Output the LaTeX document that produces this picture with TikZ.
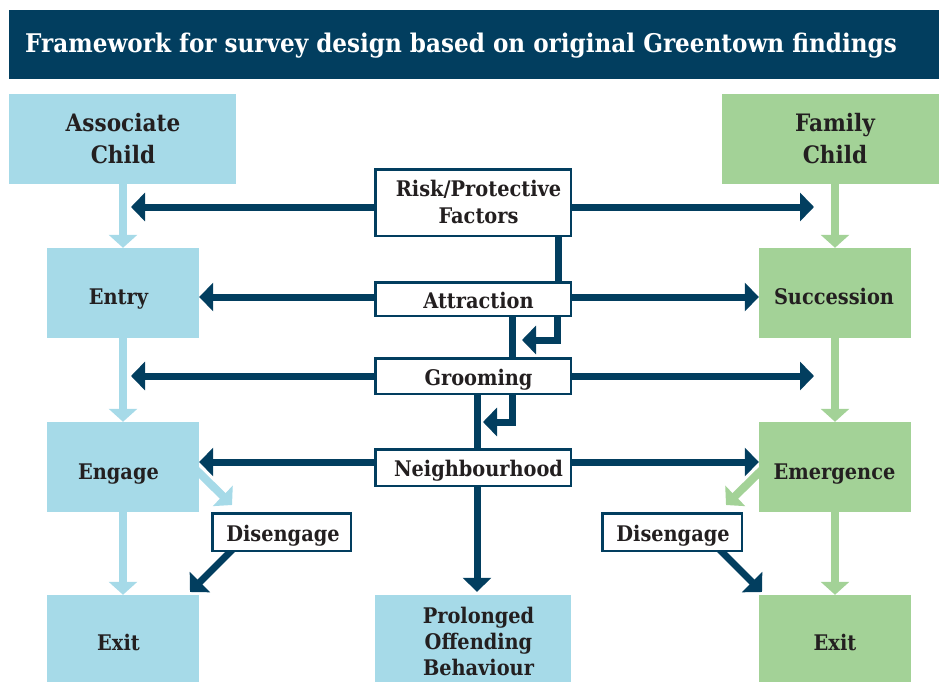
\documentclass[tikz,border=0pt]{standalone}
\usepackage{fontspec}
\setmainfont{DejaVuSerifCondensed-Bold}[Extension=.ttf]
\usetikzlibrary{arrows.meta}
\definecolor{navy}{HTML}{023E5F}
\definecolor{lblue}{HTML}{A6DAE8}
\definecolor{lgreen}{HTML}{A3D297}
\definecolor{ink}{HTML}{231F20}
\newcommand\hfnt{\fontsize{24}{28}\selectfont}
\newcommand\lfnt{\fontsize{21.5}{25}\selectfont}
\newcommand\tfnt{\fontsize{25.7}{30}\selectfont}
\pgfdeclarelayer{bg}
\pgfsetlayers{bg,main}
\begin{document}
\begin{tikzpicture}[x=1pt,y=-1pt,
  bbox/.style={fill=lblue, inner sep=0pt, draw=none},
  gbox/.style={fill=lgreen, inner sep=0pt, draw=none},
  wbox/.style={fill=white, draw=navy, line width=2.5pt, inner sep=0pt},
  lab/.style={inner sep=0pt, anchor=base, text=ink, font=\lfnt},
  hlab/.style={inner sep=0pt, anchor=base, text=ink, font=\hfnt},
  darr/.style={draw=navy, line width=7pt, -{Triangle[width=28pt,length=14pt]}},
  dline/.style={draw=navy, line width=7pt},
  larr/.style={draw=lblue, line width=8pt, -{Triangle[width=28pt,length=13pt]}},
  garr/.style={draw=lgreen, line width=8pt, -{Triangle[width=28pt,length=13pt]}}]
\useasboundingbox (0,0) rectangle (939,682);

% title
\node[fill=navy, inner sep=0pt, minimum width=930pt, minimum height=69pt] (title) at (474,44.5) {};
\node[inner sep=0pt, anchor=base west, text=white, font=\tfnt] (ttext) at (25,53) {Framework for survey design based on original Greentown findings};

% coloured boxes
\node[bbox, minimum width=227pt, minimum height=90pt] (ac) at (122.5,139) {};
\node[gbox, minimum width=217pt, minimum height=90pt] (fc) at (830.5,139) {};
\node[bbox, minimum width=152pt, minimum height=90pt] (entry) at (123,293) {};
\node[gbox, minimum width=152pt, minimum height=90pt] (succ) at (835,293) {};
\node[bbox, minimum width=152pt, minimum height=90pt] (engage) at (123,467) {};
\node[gbox, minimum width=152pt, minimum height=90pt] (emerg) at (835,467) {};
\node[bbox, minimum width=152pt, minimum height=87pt] (exitl) at (123,638.5) {};
\node[gbox, minimum width=152pt, minimum height=87pt] (exitr) at (835,638.5) {};
\node[bbox, minimum width=196pt, minimum height=87pt] (prol) at (473,638.5) {};

% white boxes
\node[wbox, minimum width=195.5pt, minimum height=66.5pt] (risk) at (473,202.5) {};
\node[wbox, minimum width=195.5pt, minimum height=33.5pt] (attr) at (473,299) {};
\node[wbox, minimum width=195.5pt, minimum height=35.5pt] (groom) at (473,376) {};
\node[wbox, minimum width=195.5pt, minimum height=36.5pt] (neigh) at (473,467.5) {};
\node[wbox, minimum width=138.5pt, minimum height=37.5pt] (disl) at (281.5,532) {};
\node[wbox, minimum width=139.5pt, minimum height=37.5pt] (disr) at (672,532) {};

% labels
\node[hlab] (ac1) at (123,131.7) {Associate};
\node[hlab] (ac2) at (123,163) {Child};
\node[hlab] (fc1) at (835,131.7) {Family};
\node[hlab] (fc2) at (835,163) {Child};
\node[lab] (entryt) at (118.5,304) {Entry};
\node[lab] (succt) at (834,304) {Succession};
\node[lab] (engaget) at (118.5,479) {Engage};
\node[lab] (emergt) at (834.5,479) {Emergence};
\node[lab] (exitlt) at (118.5,650) {Exit};
\node[lab] (exitrt) at (835,650) {Exit};
\node[lab] (prol1) at (478.5,623.3) {Prolonged};
\node[lab] (prol2) at (478.5,649) {Offending};
\node[lab] (prol3) at (478.5,675) {Behaviour};
\node[lab] (risk1) at (478.5,196.7) {Risk/Protective};
\node[lab] (risk2) at (478.5,223.3) {Factors};
\node[lab] (attrt) at (478.5,308.3) {Attraction};
\node[lab] (groomt) at (478.5,385) {Grooming};
\node[lab] (neight) at (478.5,476.7) {Neighbourhood};
\node[lab] (dislt) at (283,541.7) {Disengage};
\node[lab] (disrt) at (673,541.7) {Disengage};

% free ends
\coordinate (rl) at (131,207);
\coordinate (rr) at (814,207);
\coordinate (gl) at (131,376);
\coordinate (gr) at (814,376);
\coordinate (b1) at (522,340);
\coordinate (b2) at (483,422);
\coordinate (el) at (232,505);
\coordinate (er) at (726,505);
\coordinate (xl) at (190,592);
\coordinate (xr) at (762,592);

\begin{pgfonlayer}{bg}
% light vertical arrows
\draw[larr] (ac.south -| entry.north) -- (entry.north);
\draw[larr] (entry.south) -- (engage.north);
\draw[larr] (engage.south) -- (exitl.north);
\draw[garr] (fc.south -| succ.north) -- (succ.north);
\draw[garr] (succ.south) -- (emerg.north);
\draw[garr] (emerg.south) -- (exitr.north);
% light diagonals
\draw[larr] ([xshift=-8pt,yshift=7pt]engage.east |- 0,472) -- (el);
\draw[garr] ([xshift=8pt,yshift=7pt]emerg.west |- 0,472) -- (er);
% dark horizontal arrows
\draw[darr] (risk.center |- rl) -- (rl);
\draw[darr] (risk.center |- rr) -- (rr);
\draw[darr] (attr.center |- 0,297) -- (entry.east |- 0,297);
\draw[darr] (attr.center |- 0,297) -- (succ.west |- 0,297);
\draw[darr] (groom.center |- gl) -- (gl);
\draw[darr] (groom.center |- gr) -- (gr);
\draw[darr] (neigh.center |- 0,462) -- (engage.east |- 0,462);
\draw[darr] (neigh.center |- 0,462) -- (emerg.west |- 0,462);
% central spine
\draw[dline] (risk.south -| 558,0) -- (attr.north -| 558,0);
\draw[dline] (attr.south -| 512,0) -- (groom.north -| 512,0);
\draw[darr] (attr.south -| 557,0) |- (b1);
\draw[dline] (groom.south -| 477,0) -- (neigh.north -| 477,0);
\draw[darr] (groom.south -| 512,0) |- (b2);
\draw[darr] (neigh.south -| 477,0) -- ([yshift=3pt]prol.north -| 477,0);
% disengage arrows
\draw[darr] ([yshift=6pt]disl.south -| 236,0) -- (xl);
\draw[darr] ([yshift=6pt]disr.south -| 716,0) -- (xr);
\end{pgfonlayer}
\end{tikzpicture}
\end{document}
